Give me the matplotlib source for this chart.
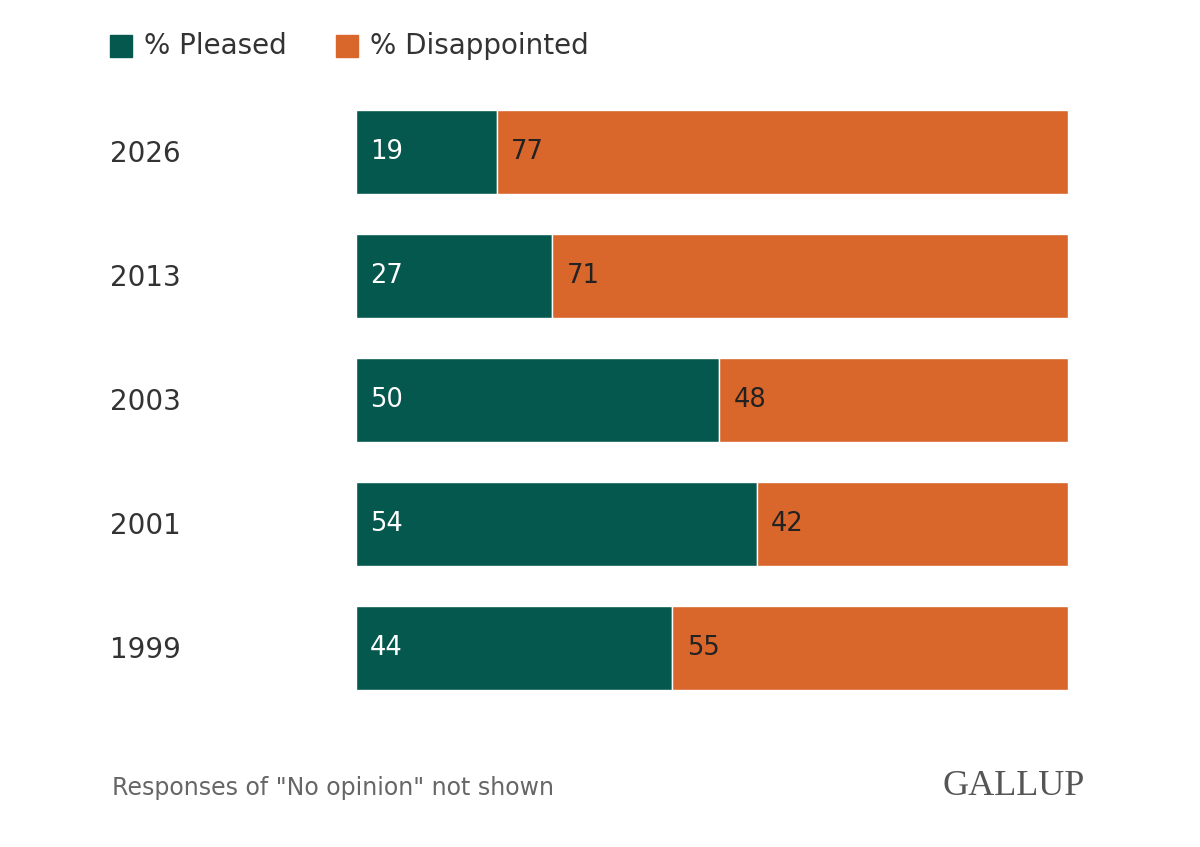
import matplotlib.pyplot as plt
from matplotlib.patches import Rectangle

years = ["2026", "2013", "2003", "2001", "1999"]
pleased = [19, 27, 50, 54, 44]
disappointed = [77, 71, 48, 42, 55]

TEAL = "#04584e"
ORANGE = "#d9662b"

fig = plt.figure(figsize=(12, 8.47), dpi=100)
ax = fig.add_axes([356 / 1200, 1 - 710 / 847, (1068 - 356) / 1200, 620 / 847])

for i, (p, d) in enumerate(zip(pleased, disappointed)):
    tot = p + d
    pf, df_ = p / tot, d / tot
    ax.barh(i, pf, height=0.685, color=TEAL, edgecolor="white", linewidth=1)
    ax.barh(i, df_, left=pf, height=0.685, color=ORANGE, edgecolor="white", linewidth=1)
    ax.text(0.02, i, str(p), color="white", va="center", ha="left", fontsize=18.5)
    ax.text(pf + 0.02, i, str(d), color="#222222", va="center", ha="left", fontsize=18.5)

ax.set_xlim(0, 1)
ax.set_ylim(len(years) - 0.5, -0.5)
ax.axis("off")

for i, y in enumerate(years):
    fig.text(110 / 1200, 1 - (154 + 124 * i) / 847, y, fontsize=20, color="#333333", va="center")

# legend
fig.patches.append(Rectangle((110 / 1200, 1 - 57 / 847), 22 / 1200, 22 / 847, color=TEAL, transform=fig.transFigure))
fig.text(144 / 1200, 1 - 46 / 847, "% Pleased", fontsize=20, color="#333333", va="center")
fig.patches.append(Rectangle((336 / 1200, 1 - 57 / 847), 22 / 1200, 22 / 847, color=ORANGE, transform=fig.transFigure))
fig.text(370 / 1200, 1 - 46 / 847, "% Disappointed", fontsize=20, color="#333333", va="center")

fig.text(112 / 1200, 1 - 788 / 847, 'Responses of "No opinion" not shown', fontsize=17, color="#666666", va="center")
fig.text(1085 / 1200, 1 - 786 / 847, "GALLUP", fontsize=26, color="#555555", va="center", ha="right",
         family="Liberation Serif")

fig.savefig("out.png", dpi=100, facecolor="white")
